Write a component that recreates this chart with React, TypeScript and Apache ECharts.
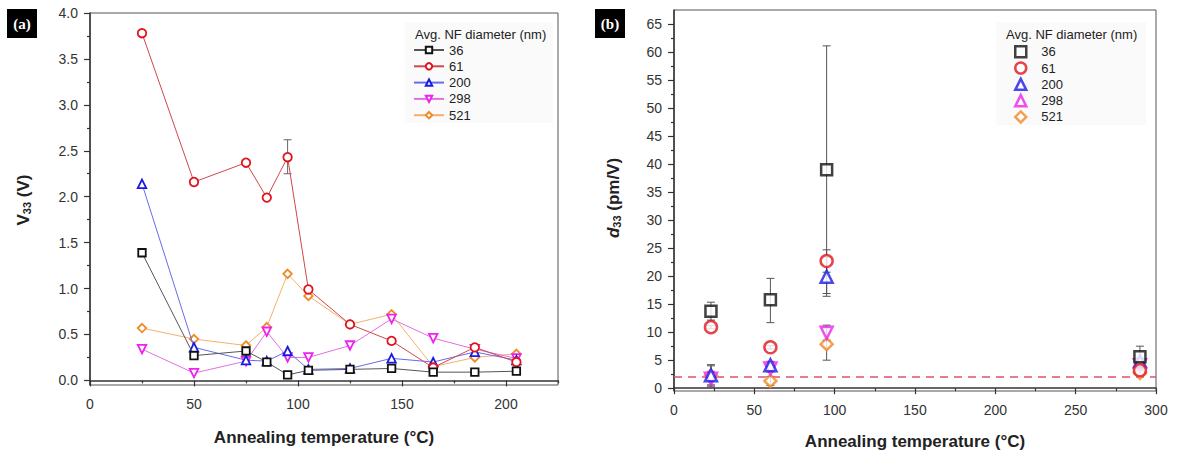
import React, { useEffect, useRef } from "react";
import * as echarts from "echarts";

// ---------- Panel (a): V33 vs annealing temperature ----------
const annealA = [25, 50, 75, 85, 95, 105, 125, 145, 165, 185, 205];
const v33Nf36 = [1.39, 0.27, 0.32, 0.2, 0.06, 0.11, 0.12, 0.13, 0.09, 0.09, 0.1];
const v33Nf61 = [3.78, 2.16, 2.37, 1.99, 2.43, 0.99, 0.61, 0.43, 0.14, 0.36, 0.2];
const v33Nf200 = [2.14, 0.36, 0.22, 0.21, 0.32, 0.12, 0.13, 0.24, 0.2, 0.31, 0.22];
const v33Nf298 = [0.34, 0.08, 0.21, 0.53, 0.25, 0.25, 0.38, 0.67, 0.46, 0.34, 0.24];
const v33Nf521 = [0.57, 0.45, 0.38, 0.58, 1.16, 0.92, 0.61, 0.72, 0.15, 0.25, 0.29];
const v33Nf61ErrX = [95];
const v33Nf61ErrLow = [2.25];
const v33Nf61ErrHigh = [2.62];

const xTicksAMajor = [0, 50, 100, 150, 200];
const xTicksAMinor = [25, 75, 125, 175, 225];
const yTicksAMajor = [0, 0.5, 1, 1.5, 2, 2.5, 3, 3.5, 4];
const yTicksAMinor = [0.25, 0.75, 1.25, 1.75, 2.25, 2.75, 3.25, 3.75];

// ---------- Panel (b): d33 vs annealing temperature ----------
const annealB = [23, 60, 95, 290];
const d33Nf36 = [13.75, 15.8, 39.0, 5.6];
const d33Nf36Low = [12.15, 11.7, 16.9, 3.7];
const d33Nf36High = [15.35, 19.6, 61.1, 7.5];
const d33Nf61 = [10.9, 7.3, 22.7, 3.2];
const d33Nf61Low = [10.6, 7.0, 20.7, 2.9];
const d33Nf61High = [11.2, 7.6, 24.7, 3.5];
const d33Nf200 = [2.3, 4.1, 19.9, 4.8];
const d33Nf200Low = [0.6, 3.4, 16.4, 4.2];
const d33Nf200High = [4.0, 4.8, 23.4, 5.4];
const d33Nf298 = [1.7, 3.5, 9.9, 4.1];
const d33Nf298Low = [0.4, 2.9, 8.55, 3.6];
const d33Nf298High = [3.0, 4.1, 11.25, 4.6];
const d33Nf521 = [2.2, 1.3, 7.85, 2.7];
const d33Nf521Low = [0.2, 0.5, 5.0, 2.2];
const d33Nf521High = [4.2, 2.1, 10.7, 3.2];
const d33Reference = 2;

const xTicksBMajor = [0, 50, 100, 150, 200, 250, 300];
const xTicksBMinor = [25, 75, 125, 175, 225, 275];
const yTicksBMajor = [0, 5, 10, 15, 20, 25, 30, 35, 40, 45, 50, 55, 60, 65];
const yTicksBMinor = [2.5, 7.5, 12.5, 17.5, 22.5, 27.5, 32.5, 37.5, 42.5, 47.5, 52.5, 57.5, 62.5];

const diameters = ["36", "61", "200", "298", "521"];

const MARK = ["#111111", "#e0141e", "#1a1ae6", "#ee22ee", "#f08a24"];
const LINE = ["#555555", "#d04848", "#6a6ae8", "#e070e0", "#f2b070"];
const SYMBOLS = ["rect", "circle", "triangle", "triangle", "diamond"];
const ROT = [0, 0, 0, 180, 0];

const FONT = "Arial, 'Liberation Sans', sans-serif";
const AXIS_COLOR = "#333";

function buildOption() {
  const seriesA = [v33Nf36, v33Nf61, v33Nf200, v33Nf298, v33Nf521];
  const seriesB = [d33Nf36, d33Nf61, d33Nf200, d33Nf298, d33Nf521];
  const lowsB = [d33Nf36Low, d33Nf61Low, d33Nf200Low, d33Nf298Low, d33Nf521Low];
  const highsB = [d33Nf36High, d33Nf61High, d33Nf200High, d33Nf298High, d33Nf521High];

  const errSeries = (xi: number, yi: number, xs: number[], lo: number[], hi: number[], color: string) => ({
    type: "custom",
    xAxisIndex: xi,
    yAxisIndex: yi,
    silent: true,
    z: 1,
    encode: { x: 0, y: [1, 2] },
    data: xs.map((x, i) => [x, lo[i], hi[i]]),
    renderItem: (params: any, api: any) => {
      const x = api.value(0);
      const p1 = api.coord([x, api.value(2)]);
      const p2 = api.coord([x, api.value(1)]);
      const w = 4;
      const st = { stroke: color, lineWidth: 1 };
      return {
        type: "group",
        children: [
          { type: "line", shape: { x1: p1[0], y1: p1[1], x2: p2[0], y2: p2[1] }, style: st },
          { type: "line", shape: { x1: p1[0] - w, y1: p1[1], x2: p1[0] + w, y2: p1[1] }, style: st },
          { type: "line", shape: { x1: p2[0] - w, y1: p2[1], x2: p2[0] + w, y2: p2[1] }, style: st },
        ],
      };
    },
  });

  const series: any[] = [];
  seriesA.forEach((vals, k) => {
    series.push({
      type: "line",
      name: diameters[k],
      xAxisIndex: 0,
      yAxisIndex: 0,
      data: annealA.map((x, i) => [x, vals[i]]),
      symbol: SYMBOLS[k],
      symbolRotate: ROT[k],
      symbolSize: k === 0 ? 7.5 : 8.5,
      showAllSymbol: true,
      lineStyle: { color: LINE[k], width: 1 },
      itemStyle: { color: "#fff", borderColor: MARK[k], borderWidth: 1.8 },
      z: 3 + (4 - k),
    });
  });
  series.push(errSeries(0, 0, v33Nf61ErrX, v33Nf61ErrLow, v33Nf61ErrHigh, "#666"));

  seriesB.forEach((vals, k) => {
    const s: any = {
      type: "scatter",
      name: "b" + diameters[k],
      xAxisIndex: 2,
      yAxisIndex: 2,
      data: annealB.map((x, i) => [x, vals[i]]),
      symbol: SYMBOLS[k],
      symbolRotate: ROT[k],
      symbolSize: k === 0 ? 11 : 12,
      itemStyle: { color: "#fff", borderColor: MARK[k], borderWidth: 2.5 },
      z: 3 + (4 - k),
    };
    if (k === 0) {
      s.markLine = {
        silent: true,
        symbol: ["none", "none"],
        label: { show: false },
        lineStyle: { color: "#e2506c", type: [8, 6], width: 1.5 },
        data: [{ yAxis: d33Reference }],
        z: 2,
      };
    }
    series.push(s);
    series.push(errSeries(2, 2, annealB, lowsB[k], highsB[k], "#555"));
  });

  const mkX = (grid: number, min: number, max: number, ticks: number[], labels: number[] | null, len: number) => ({
    type: "value",
    gridIndex: grid,
    position: "bottom",
    min,
    max,
    splitLine: { show: false },
    axisLine: { show: labels !== null, lineStyle: { color: AXIS_COLOR, width: 1.5 } },
    axisTick: { show: true, customValues: ticks, length: len, lineStyle: { color: AXIS_COLOR, width: 1.2 } },
    axisLabel: labels
      ? { show: true, customValues: labels, margin: 12, fontSize: 14, color: "#333", fontFamily: FONT }
      : { show: false },
  });
  const mkY = (
    grid: number,
    min: number,
    max: number,
    ticks: number[],
    labels: number[] | null,
    len: number,
    fmt?: (v: number) => string
  ) => ({
    type: "value",
    gridIndex: grid,
    position: "left",
    min,
    max,
    splitLine: { show: false },
    axisLine: { show: labels !== null, lineStyle: { color: AXIS_COLOR, width: 1.5 } },
    axisTick: { show: true, customValues: ticks, length: len, lineStyle: { color: AXIS_COLOR, width: 1.2 } },
    axisLabel: labels
      ? { show: true, customValues: labels, margin: 12, fontSize: 14, color: "#333", fontFamily: FONT, formatter: fmt }
      : { show: false },
  });

  return {
    animation: false,
    backgroundColor: "#ffffff",
    grid: [
      { left: 90, top: 13, width: 468, height: 372, show: true, borderColor: "#555", borderWidth: 1, backgroundColor: "transparent" },
      { left: 674, top: 10, width: 482, height: 381, show: true, borderColor: "#555", borderWidth: 1, backgroundColor: "transparent" },
    ],
    xAxis: [
      mkX(0, 0, 225, xTicksAMajor, xTicksAMajor, 6),
      mkX(0, 0, 225, xTicksAMinor, null, 3),
      mkX(1, 0, 300, xTicksBMajor, xTicksBMajor, 6),
      mkX(1, 0, 300, xTicksBMinor, null, 3),
    ],
    yAxis: [
      mkY(0, -0.05, 4.0, yTicksAMajor, yTicksAMajor, 6, (v: number) => v.toFixed(1)),
      mkY(0, -0.05, 4.0, yTicksAMinor, null, 3),
      mkY(1, -0.5, 67.5, yTicksBMajor, yTicksBMajor, 6),
      mkY(1, -0.5, 67.5, yTicksBMinor, null, 3),
    ],
    legend: [
      {
        orient: "vertical",
        selectedMode: false,
        padding: 0,
        left: 413,
        top: 43.5,
        itemWidth: 30,
        itemHeight: 8,
        itemGap: 3.3,
        textStyle: { fontSize: 13, color: "#222", fontFamily: FONT },
        data: diameters,
      },
      {
        orient: "vertical",
        selectedMode: false,
        padding: 0,
        left: 1014,
        top: 45,
        itemWidth: 11,
        itemHeight: 11,
        itemGap: 2.8,
        symbolKeepAspect: true,
        itemStyle: { borderWidth: 2.5 },
        textStyle: { fontSize: 13, color: "#222", fontFamily: FONT, padding: [0, 0, 0, 10] },
        data: diameters.map((d) => "b" + d),
        formatter: (n: string) => n.slice(1),
      },
    ],
    graphic: [
      { type: "rect", left: 405, top: 22, shape: { width: 148, height: 101 }, style: { fill: "#fafafa" }, z: -1 },
      { type: "rect", left: 996, top: 22, shape: { width: 150, height: 103 }, style: { fill: "#fafafa" }, z: -1 },
      {
        type: "text",
        left: 415,
        top: 28,
        style: { text: "Avg. NF diameter (nm)", fontSize: 13, fill: "#222", fontFamily: FONT },
      },
      {
        type: "text",
        left: 1006,
        top: 28,
        style: { text: "Avg. NF diameter (nm)", fontSize: 13, fill: "#222", fontFamily: FONT },
      },
      {
        type: "group",
        left: 7,
        top: 9,
        children: [
          { type: "rect", shape: { x: 0, y: 0, width: 30, height: 29 }, style: { fill: "#000" } },
          {
            type: "text",
            x: 15,
            y: 14.5,
            style: {
              text: "(a)",
              fill: "#fff",
              fontSize: 15,
              fontWeight: "bold",
              fontFamily: "'Liberation Serif', 'DejaVu Serif', serif",
              align: "center",
              verticalAlign: "middle",
            },
          },
        ],
      },
      {
        type: "group",
        left: 595,
        top: 9,
        children: [
          { type: "rect", shape: { x: 0, y: 0, width: 30, height: 29 }, style: { fill: "#000" } },
          {
            type: "text",
            x: 15,
            y: 14.5,
            style: {
              text: "(b)",
              fill: "#fff",
              fontSize: 15,
              fontWeight: "bold",
              fontFamily: "'Liberation Serif', 'DejaVu Serif', serif",
              align: "center",
              verticalAlign: "middle",
            },
          },
        ],
      },
      {
        type: "text",
        x: 324,
        y: 437,
        style: {
          text: "Annealing temperature (°C)",
          fontSize: 17,
          fontWeight: "bold",
          fill: "#222",
          fontFamily: FONT,
          align: "center",
          verticalAlign: "middle",
        },
      },
      {
        type: "text",
        x: 915,
        y: 441,
        style: {
          text: "Annealing temperature (°C)",
          fontSize: 17,
          fontWeight: "bold",
          fill: "#222",
          fontFamily: FONT,
          align: "center",
          verticalAlign: "middle",
        },
      },
      {
        type: "text",
        x: 22,
        y: 200,
        rotation: Math.PI / 2,
        style: {
          text: "{b|V}{s|33}{b| (V)}",
          align: "center",
          verticalAlign: "middle",
          fill: "#222",
          rich: {
            b: { fontSize: 17, fontWeight: "bold", fontFamily: FONT, fill: "#222", lineHeight: 20, verticalAlign: "bottom" },
            s: { fontSize: 11, fontWeight: "bold", fontFamily: FONT, fill: "#222", lineHeight: 10, verticalAlign: "bottom" },
          },
        },
      },
      {
        type: "text",
        x: 612,
        y: 198,
        rotation: Math.PI / 2,
        style: {
          text: "{i|d}{s|33}{b| (pm/V)}",
          align: "center",
          verticalAlign: "middle",
          fill: "#222",
          rich: {
            i: { fontSize: 17, fontWeight: "bold", fontStyle: "italic", fontFamily: FONT, fill: "#222", lineHeight: 20, verticalAlign: "bottom" },
            b: { fontSize: 17, fontWeight: "bold", fontFamily: FONT, fill: "#222", lineHeight: 20, verticalAlign: "bottom" },
            s: { fontSize: 11, fontWeight: "bold", fontFamily: FONT, fill: "#222", lineHeight: 10, verticalAlign: "bottom" },
          },
        },
      },
    ],
    series,
  };
}

export default function App() {
  const ref = useRef<HTMLDivElement>(null);
  useEffect(() => {
    if (!ref.current) return;
    const chart = echarts.init(ref.current, null, { renderer: "svg" });
    chart.setOption(buildOption() as any);
    return () => chart.dispose();
  }, []);
  return (
    <div
      ref={ref}
      style={{ position: "absolute", left: 0, top: 0, width: 1181, height: 455, background: "#fff" }}
    />
  );
}
